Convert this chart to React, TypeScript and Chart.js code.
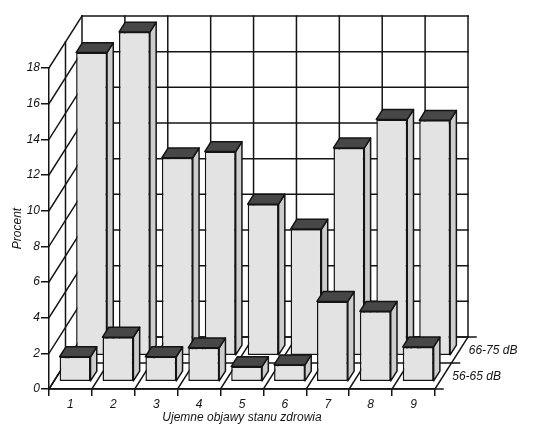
import React, { useEffect, useRef } from 'react';
import { Chart, registerables } from 'chart.js';

Chart.register(...registerables);

// ---- data ----
const categories = ['1', '2', '3', '4', '5', '6', '7', '8', '9'];
const seriesNames = ['56-65 dB', '66-75 dB'];
const values5665 = [1.4, 2.5, 1.4, 1.9, 0.85, 0.95, 4.5, 3.95, 1.95];
const values6675 = [17.0, 18.15, 11.1, 11.45, 8.5, 7.1, 11.65, 13.25, 13.2];
const yMin = 0;
const yMax = 18;
const yStep = 2;
const yTitle = 'Procent';
const xTitle = 'Ujemne objawy stanu zdrowia';

// ---- style / geometry ----
const FONT_FAMILY = "'Liberation Sans', Arial, Helvetica, sans-serif";
const INK = '#141414';
const FACE = '#e3e3e3';
const SIDE = '#cdcdcd';
const TOP = '#474747';
const LW = 1.5;
const DX = 33;
const DY = 52;
const ROW_FACE = [0.14, 0.64];
const BAR_DEPTH = 0.19;

function line(ctx: CanvasRenderingContext2D, x1: number, y1: number, x2: number, y2: number) {
  ctx.beginPath();
  ctx.moveTo(x1, y1);
  ctx.lineTo(x2, y2);
  ctx.stroke();
}

function poly(ctx: CanvasRenderingContext2D, pts: number[][], fill: string) {
  ctx.beginPath();
  ctx.moveTo(pts[0][0], pts[0][1]);
  for (let i = 1; i < pts.length; i++) ctx.lineTo(pts[i][0], pts[i][1]);
  ctx.closePath();
  ctx.fillStyle = fill;
  ctx.fill();
  ctx.stroke();
}

const depthPlugin = {
  id: 'depth3d',
  beforeDatasetsDraw(chart: any) {
    const { ctx, chartArea } = chart;
    const { left, right, top, bottom } = chartArea;
    const xs = chart.scales.x;
    const ys = chart.scales.y;
    const n = chart.data.labels.length;
    const step = (right - left) / n;
    const bounds: number[] = [];
    for (let i = 0; i <= n; i++) bounds.push(xs.getPixelForValue(0) - step / 2 + i * step);
    ctx.save();
    ctx.strokeStyle = INK;
    ctx.lineWidth = LW;
    ctx.lineCap = 'square';
    ys.ticks.forEach((t: any) => {
      const fy = ys.getPixelForValue(t.value);
      // back wall horizontal
      line(ctx, bounds[0] + DX, fy - DY, bounds[n] + DX, fy - DY);
      // left wall diagonal
      line(ctx, left, fy, left + DX, fy - DY);
    });
    // back wall verticals
    bounds.forEach((b) => line(ctx, b + DX, top - DY, b + DX, bottom - DY));
    // left wall mid vertical
    line(ctx, left + DX / 2, top - DY / 2, left + DX / 2, bottom - DY / 2);
    // floor diagonals
    bounds.forEach((b) => line(ctx, b, bottom, b + DX, bottom - DY));
    // floor depth lines and right depth ticks
    [0, 0.5, 1].forEach((d) => {
      line(ctx, left + d * DX, bottom - d * DY, right + d * DX, bottom - d * DY);
      line(ctx, right + d * DX, bottom - d * DY, right + d * DX + 8, bottom - d * DY);
    });
    // depth axis labels
    ctx.fillStyle = INK;
    ctx.font = `italic 12px ${FONT_FAMILY}`;
    ctx.textAlign = 'left';
    ctx.textBaseline = 'middle';
    chart.data.datasets.forEach((ds: any, i: number) => {
      const d = i === 0 ? 0.25 : 0.75;
      ctx.fillText(ds.label, right + d * DX + 9, bottom - d * DY + 1);
    });
    ctx.restore();
  },
  beforeDatasetDraw(chart: any, args: any) {
    const f = ROW_FACE[args.index];
    chart.ctx.save();
    chart.ctx.translate(f * DX, -f * DY);
  },
  afterDatasetDraw(chart: any, args: any) {
    const ctx = chart.ctx;
    const bx = BAR_DEPTH * DX;
    const by = -BAR_DEPTH * DY;
    ctx.strokeStyle = INK;
    ctx.lineWidth = LW;
    ctx.lineJoin = 'round';
    args.meta.data.forEach((el: any) => {
      const { x, y, base, width } = el.getProps(['x', 'y', 'base', 'width'], true);
      const xl = x - width / 2;
      const xr = x + width / 2;
      poly(ctx, [[xr, y], [xr + bx, y + by], [xr + bx, base + by], [xr, base]], SIDE);
      poly(ctx, [[xl, y], [xl + bx, y + by], [xr + bx, y + by], [xr, y]], TOP);
    });
    ctx.restore();
  },
};

export default function App() {
  const ref = useRef<HTMLCanvasElement | null>(null);
  useEffect(() => {
    if (!ref.current) return;
    const font = { family: FONT_FAMILY, size: 12, style: 'italic' as const };
    const chart = new Chart(ref.current, {
      type: 'bar',
      data: {
        labels: categories,
        datasets: [
          {
            label: seriesNames[0],
            data: values5665,
            backgroundColor: FACE,
            borderColor: INK,
            borderWidth: LW,
            borderSkipped: false,
            grouped: false,
            order: 0,
            clip: false as any,
            barPercentage: 0.72,
            categoryPercentage: 1,
          },
          {
            label: seriesNames[1],
            data: values6675,
            backgroundColor: FACE,
            borderColor: INK,
            borderWidth: LW,
            borderSkipped: false,
            grouped: false,
            order: 1,
            clip: false as any,
            barPercentage: 0.72,
            categoryPercentage: 1,
          },
        ],
      },
      options: {
        responsive: false,
        animation: false,
        devicePixelRatio: 1,
        layout: { padding: { left: 0, top: 68, right: 103, bottom: 0 } },
        plugins: { legend: { display: false }, tooltip: { enabled: false } },
        scales: {
          x: {
            offset: true,
            grid: { display: true, drawOnChartArea: false, tickLength: 7, color: INK, lineWidth: LW, offset: true },
            border: { display: true, color: INK, width: LW },
            ticks: { font, color: INK, padding: 1, maxRotation: 0, autoSkip: false },
            title: { display: true, text: xTitle, font, color: INK, padding: { top: 0, bottom: 3 } },
            afterFit: (s: any) => { s.height = 39; },
          },
          y: {
            min: yMin,
            max: yMax,
            grid: { display: true, drawOnChartArea: false, tickLength: 8, color: INK, lineWidth: LW },
            border: { display: true, color: INK, width: LW },
            ticks: { stepSize: yStep, font, color: INK, padding: 1 },
            title: { display: true, text: yTitle, font, color: INK, padding: { top: 10, bottom: 0 } },
            afterFit: (s: any) => { s.width = 49; },
          },
        },
      },
      plugins: [depthPlugin],
    });
    return () => chart.destroy();
  }, []);
  return (
    <div style={{ position: 'fixed', left: 0, top: 0, width: 538, height: 428, background: '#fff' }}>
      <canvas ref={ref} width={538} height={428} style={{ display: 'block' }} />
    </div>
  );
}
